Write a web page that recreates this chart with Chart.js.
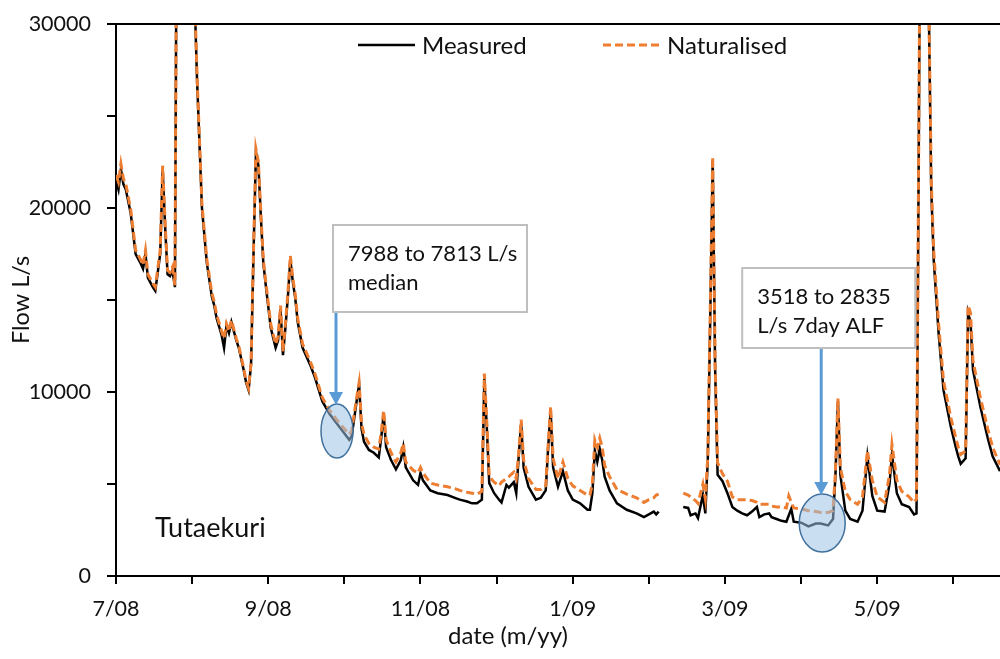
<!DOCTYPE html>
<html>
<head>
<meta charset="utf-8">
<script src="https://cdn.jsdelivr.net/npm/chart.js@4.4.1/dist/chart.umd.min.js"></script>
<style>
  html, body { margin: 0; padding: 0; background: #fff; }
  #chart { display: block; }
</style>
</head>
<body>
<canvas id="chart" width="1000" height="659"></canvas>
<script>
// Tutaekuri daily flow, day 0 = 1 July 2008
const days = [0, 1, 2, 3, 4, 6, 8, 10, 11, 12, 13, 15, 16, 18, 19, 20, 21, 22, 23, 24,
  25, 28, 31, 32, 33, 34, 35, 37, 39, 40, 41, 43, 44, 45, 46, 47, 49, 50, 52, 53,
  54, 55, 56, 57, 58, 59, 60, 61, 63, 65, 66, 67, 68, 69, 70, 71, 72, 73, 74, 76,
  79, 81, 84, 87, 91, 95, 96, 98, 99, 100, 101, 103, 105, 107, 108, 109, 110, 112, 114, 116,
  117, 118, 121, 123, 124, 125, 128, 131, 135, 138, 140, 143, 145, 147, 149, 150, 151, 152, 154, 156,
  157, 159, 160, 162, 163, 164, 165, 166, 168, 171, 173, 175, 176, 177, 178, 180, 182, 184, 186, 189,
  192, 193, 194, 195, 196, 197, 198, 199, 201, 204, 208, 212, 215, 217, 219, 220, 221, 225, 231, 233,
  234, 236, 237, 239, 240, 241, 242, 243, 244, 245, 247, 249, 251, 253, 255, 257, 259, 261, 262, 264,
  266, 267, 269, 271, 273, 274, 275, 276, 279, 282, 285, 287, 290, 292, 293, 294, 295, 297, 299, 302,
  304, 305, 306, 308, 310, 313, 315, 316, 318, 320, 323, 325, 326, 327, 328, 330, 331, 332, 333, 335,
  337, 340, 342, 343, 344, 346, 347, 348, 349, 352, 355, 357, 360];

const measured = [21500, 21000, 22100, 21300, 21000, 19700, 17500, 17000, 16700, 17500, 16200, 15700, 15500, 17500, 22100, 19000, 16400, 16300, 16600, 15700,
  45000, 52000, 40000, 31500, 27000, 23500, 20000, 17000, 15200, 14700, 14000, 13100, 12400, 13600, 13200, 13800, 12800, 12400, 11200, 10500,
  10100, 11500, 17500, 23000, 22300, 19500, 17000, 15800, 13500, 12400, 12800, 14500, 12000, 13500, 15200, 17200, 16000, 15100, 13800, 12400,
  11500, 10800, 9500, 8800, 8100, 7400, 7600, 9500, 10400, 8000, 7300, 6850, 6700, 6450, 7500, 8800, 7000, 6300, 5800, 6300,
  7000, 5900, 5200, 4950, 5600, 5200, 4650, 4500, 4400, 4250, 4150, 4050, 3950, 3950, 4150, 10700, 8100, 5050, 4500, 4150,
  4000, 4950, 4800, 5100, 4500, 6500, 8300, 5900, 4850, 4150, 4250, 4650, 7000, 9000, 5900, 4850, 5700, 4650, 4150, 3950,
  3600, 3600, 4500, 6800, 6200, 6900, 6300, 5400, 4650, 3950, 3600, 3400, 3200, 3350, 3500, 3350, 3500, null, 3750, 3700,
  3300, 3400, 3150, 4400, 3400, 6300, 14000, 22600, 11200, 5500, 5150, 4500, 3750, 3550, 3400, 3300, 3500, 3750, 3200, 3350,
  3400, 3200, 3100, 3000, 2950, 3300, 3650, 2950, 2900, 2700, 2850, 2850, 2750, 3100, 5500, 9500, 5500, 3550, 3100, 2950,
  3550, 5000, 6500, 4350, 3550, 3500, 5000, 6600, 4500, 3900, 3750, 3350, 3400, 25000, 48000, 55000, 31000, 21000, 17200, 13200,
  10100, 8100, 7000, 6500, 6100, 6400, 14300, 13800, 11200, 9200, 7500, 6500, 5700];

const naturalised = [21800, 21400, 22400, 21600, 21300, 19900, 17700, 17200, 16900, 17700, 16400, 15900, 15700, 17700, 22300, 19200, 16600, 16500, 16800, 15800,
  45200, 52200, 40200, 31700, 27200, 23700, 20200, 17200, 15400, 14900, 14200, 13300, 12900, 13700, 13300, 13900, 12900, 12500, 11300, 10600,
  10200, 11600, 17700, 23200, 22500, 19700, 17200, 16000, 13700, 12600, 13000, 14700, 12200, 13700, 15400, 17400, 16200, 15300, 14000, 12600,
  11700, 11000, 9700, 9000, 8300, 7700, 7900, 9700, 10500, 8300, 7700, 7200, 7000, 6900, 7800, 9000, 7400, 6700, 6200, 6700,
  7200, 6200, 5750, 5600, 5900, 5600, 5050, 4950, 4850, 4750, 4650, 4550, 4500, 4450, 4600, 11000, 8400, 5400, 5100, 4900,
  5100, 5300, 5400, 5650, 5300, 6700, 8500, 6300, 5300, 4700, 4700, 4900, 7200, 9200, 6400, 5300, 6200, 5300, 4900, 4650,
  4400, 4400, 5000, 7400, 7000, 7500, 7000, 6000, 5400, 4700, 4450, 4250, 4000, 4150, 4250, 4400, 4450, null, 4500, 4400,
  4300, 4100, 3950, 5000, 4200, 6500, 14500, 22770, 11500, 6150, 5550, 5150, 4300, 4150, 4150, 4150, 4100, 4000, 3900, 3900,
  3900, 3800, 3750, 3750, 3700, 4350, 4000, 3700, 3650, 3550, 3500, 3450, 3450, 3550, 5700, 9650, 5900, 4600, 4150, 3900,
  4300, 5500, 6800, 5200, 4300, 4000, 5500, 7150, 5200, 4600, 4300, 4000, 4200, 25500, 48200, 55200, 31300, 21500, 17700, 13700,
  10600, 8600, 7500, 7000, 6600, 6800, 14700, 14300, 11700, 9700, 8000, 7000, 6050];

// x-axis tick marks every 31 days, every second one labelled
const monthTicks = [0, 31, 62, 93, 124, 155, 186, 217, 248, 279, 310, 341];
const tickLabels = ['7/08', '9/08', '11/08', '1/09', '3/09', '5/09'];

// Callouts: circled point (day, flow) and the note above it
const callouts = [
  { day: 90, flow: 7880, rx: 16, ry: 27, boxDx: -4, boxTop: 225, boxW: 194, boxH: 87,
    lines: ['7988 to 7813 L/s', 'median'] },
  { day: 287.6, flow: 2880, rx: 23, ry: 29, boxDx: -80, boxTop: 268, boxW: 173, boxH: 80,
    lines: ['3518 to 2835', 'L/s 7day ALF'] }
];

const family = 'Lato, "Open Sans", sans-serif';
const textColor = '#111';

const toPoints = (vals) => days.map((d, i) => ({ x: d, y: vals[i] }));

// Legend, callouts, site name and plot frame
const overlay = {
  id: 'overlay',
  afterDatasetsDraw(chart) {
    const c = chart.ctx;
    const area = chart.chartArea;
    const xs = chart.scales.x;
    const ys = chart.scales.y;

    c.save();
    // top edge of plot frame
    c.strokeStyle = '#000';
    c.lineWidth = 2;
    c.beginPath();
    c.moveTo(area.left, area.top);
    c.lineTo(area.right, area.top);
    c.stroke();

    callouts.forEach(co => {
      const cx = xs.getPixelForValue(co.day);
      const cy = ys.getPixelForValue(co.flow);

      c.beginPath();
      c.ellipse(cx, cy, co.rx, co.ry, 0, 0, Math.PI * 2);
      c.fillStyle = 'rgba(157, 195, 230, 0.55)';
      c.fill();
      c.strokeStyle = '#41719C';
      c.lineWidth = 1.5;
      c.stroke();

      // arrow from note down to circle
      const ax = cx - 1;
      const tipY = cy - co.ry + 1;
      const baseY = co.boxTop + co.boxH;
      c.strokeStyle = '#5B9BD5';
      c.fillStyle = '#5B9BD5';
      c.lineWidth = 3;
      c.beginPath();
      c.moveTo(ax, baseY);
      c.lineTo(ax, tipY - 10);
      c.stroke();
      c.beginPath();
      c.moveTo(ax, tipY);
      c.lineTo(ax - 7, tipY - 13);
      c.lineTo(ax + 7, tipY - 13);
      c.closePath();
      c.fill();

      // note box
      const bx = cx + co.boxDx;
      c.fillStyle = '#fff';
      c.fillRect(bx, co.boxTop, co.boxW, co.boxH);
      c.strokeStyle = '#BFBFBF';
      c.lineWidth = 2;
      c.strokeRect(bx, co.boxTop, co.boxW, co.boxH);
      c.fillStyle = textColor;
      c.font = '22px ' + family;
      c.textAlign = 'left';
      c.textBaseline = 'alphabetic';
      co.lines.forEach((t, i) => c.fillText(t, bx + 15, co.boxTop + 36 + i * 29));
    });

    // legend
    const legendY = 45;
    const items = [
      { ds: chart.data.datasets[0], x0: 358, x1: 415, tx: 422 },
      { ds: chart.data.datasets[1], x0: 603, x1: 662, tx: 667 }
    ];
    items.forEach(it => {
      c.strokeStyle = it.ds.borderColor;
      c.lineWidth = it.ds.borderWidth;
      c.setLineDash(it.ds.borderDash || []);
      c.beginPath();
      c.moveTo(it.x0, legendY);
      c.lineTo(it.x1, legendY);
      c.stroke();
      c.setLineDash([]);
      c.fillStyle = textColor;
      c.font = '24px ' + family;
      c.textBaseline = 'middle';
      c.fillText(it.ds.label, it.tx, legendY + 1);
    });

    // site name
    c.font = '27px ' + family;
    c.textBaseline = 'alphabetic';
    c.fillText('Tutaekuri', 155, 537);

    // x-axis title
    c.font = '24px ' + family;
    c.textAlign = 'center';
    c.textBaseline = 'middle';
    c.fillText('date (m/yy)', 508, 636);
    c.restore();
  }
};

const ctx = document.getElementById('chart').getContext('2d');
const chart = new Chart(ctx, {
  type: 'line',
  data: {
    datasets: [
      { label: 'Measured', data: toPoints(measured), borderColor: '#000000',
        borderWidth: 2.5, order: 2 },
      { label: 'Naturalised', data: toPoints(naturalised), borderColor: '#ED7D31',
        borderWidth: 3, borderDash: [8, 4], order: 1 }
    ]
  },
  options: {
    responsive: false,
    animation: false,
    devicePixelRatio: 1,
    spanGaps: false,
    elements: { point: { radius: 0 }, line: { tension: 0 } },
    layout: { autoPadding: false, padding: { top: 24, right: 0, bottom: 0, left: 0 } },
    plugins: { legend: { display: false }, tooltip: { enabled: false } },
    scales: {
      x: {
        type: 'linear',
        min: 0,
        max: 360,
        afterBuildTicks: (s) => { s.ticks = monthTicks.map(v => ({ value: v })); },
        afterFit: (s) => { s.height = 83; },
        ticks: {
          autoSkip: false,
          maxRotation: 0,
          padding: 12,
          color: textColor,
          font: { family: family, size: 21.5 },
          callback: (v, i) => (i % 2 === 0 ? tickLabels[i / 2] : '')
        },
        grid: { drawOnChartArea: false, tickLength: 8, color: '#000', lineWidth: 2 },
        border: { color: '#000', width: 2 }
      },
      y: {
        min: 0,
        max: 30000,
        // fixed width; keep the label gap from pushing the plot top down
        afterFit: (s) => { s.width = 116; s.paddingTop = 12; s.paddingBottom = 12; },
        ticks: {
          stepSize: 5000,
          padding: 16,
          color: textColor,
          font: { family: family, size: 21.5 },
          callback: (v) => (v % 10000 === 0 ? String(v) : '')
        },
        grid: { drawOnChartArea: false, tickLength: 9, color: '#000', lineWidth: 2 },
        border: { color: '#000', width: 2 },
        title: {
          display: true,
          text: 'Flow L/s',
          color: textColor,
          font: { family: family, size: 23.5 },
          padding: { top: 7, bottom: 0 }
        }
      }
    }
  },
  plugins: [overlay]
});
</script>
</body>
</html>
